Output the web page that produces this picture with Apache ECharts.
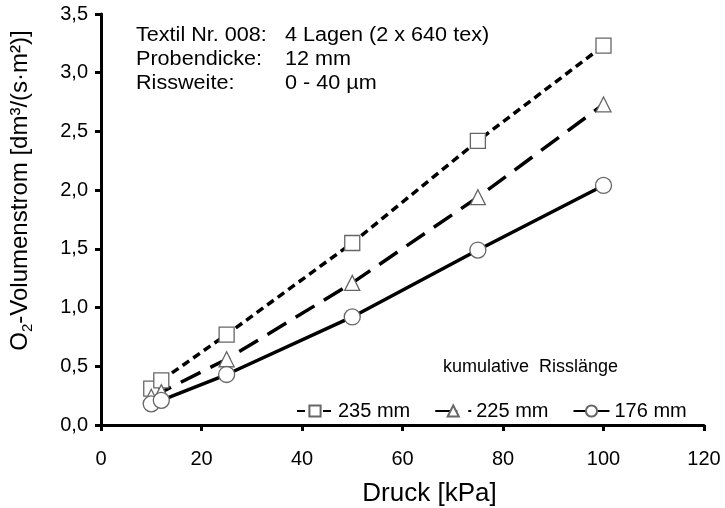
<!DOCTYPE html>
<html>
<head>
<meta charset="utf-8">
<script src="https://cdn.jsdelivr.net/npm/echarts@6/dist/echarts.min.js"></script>
<style>
html,body{margin:0;padding:0;background:#fff;}
#c{width:725px;height:508px;}
</style>
</head>
<body>
<div id="c"></div>
<script>
const pressure = [10, 12, 25, 50, 75, 100];
const s235 = [0.31, 0.38, 0.77, 1.55, 2.42, 3.23];
const s225 = [0.24, 0.28, 0.56, 1.21, 1.94, 2.73];
const s176 = [0.18, 0.21, 0.43, 0.92, 1.49, 2.04];
const seriesNames = ['235 mm', '225 mm', '176 mm'];
const xTicks = [0, 20, 40, 60, 80, 100, 120];
const yTicks = [0, 0.5, 1, 1.5, 2, 2.5, 3, 3.5];
const notesLeft = ['Textil Nr. 008:', 'Probendicke:', 'Rissweite:'];
const notesRight = ['4 Lagen (2 x 640 tex)', '12 mm', '0 - 40 µm'];
const legendTitle = 'kumulative  Risslänge';

const FF = '"Liberation Sans", Arial, sans-serif';
const chart = echarts.init(document.getElementById('c'), null, {renderer: 'canvas'});

function pairs(vals){ return pressure.map((x,i)=>[x, vals[i]]); }

const markerStyle = {color: '#fff', borderColor: '#666', borderWidth: 1.3};

const graphics = [];
notesLeft.forEach((t,i)=>{
  graphics.push({type:'text', left:136, top:25 + i*24, z:10, scaleX:1.08,
    style:{text:t, font:'20px ' + FF, fill:'#000'}});
});
notesRight.forEach((t,i)=>{
  graphics.push({type:'text', left:285, top:25 + i*24, z:10, scaleX:1.08,
    style:{text:t, font:'20px ' + FF, fill:'#000'}});
});
graphics.push({type:'text', left:443, top:358, z:10,
  style:{text:legendTitle, font:'18px ' + FF, fill:'#000'}});

chart.setOption({
  animation: false,
  backgroundColor: '#fff',
  textStyle: {fontFamily: FF},
  grid: {left: 101, right: 21, top: 14, bottom: 83, containLabel: false, outerBoundsMode: 'none'},
  graphic: graphics,
  legend: {
    left: 291, top: 396,
    itemWidth: 36, itemHeight: 14, itemGap: 24,
    textStyle: {fontSize: 20, color: '#000', fontFamily: FF, padding: [0,0,0,0]},
    data: seriesNames
  },
  xAxis: {
    type: 'value', min: 0, max: 120, interval: 20,
    name: 'Druck [kPa]', nameLocation: 'middle', nameGap: 56,
    nameTextStyle: {fontSize: 26, color: '#000', fontFamily: FF, padding: [0,0,0,54]},
    axisLine: {lineStyle: {color: '#000', width: 3}},
    axisTick: {inside: false, length: 6, lineStyle: {color: '#000', width: 3}},
    axisLabel: {fontSize: 20, color: '#000', margin: 24, fontFamily: FF,
      formatter: v => xTicks.includes(v) ? String(v) : ''},
    splitLine: {show: false}
  },
  yAxis: {
    type: 'value', min: 0, max: 3.5, interval: 0.5,
    name: '{n|O}{s|2}{n|-Volumenstrom [dm³/(s·m²)]}', nameLocation: 'middle', nameGap: 66,
    nameTextStyle: {fontSize: 24, color: '#000', fontFamily: FF, padding: [0,0,0,58],
      rich: {
        n: {fontSize: 24, lineHeight: 30, color: '#000', fontFamily: FF},
        s: {fontSize: 15, lineHeight: 30, verticalAlign: 'bottom', color: '#000', fontFamily: FF}
      }},
    axisLine: {show: true, lineStyle: {color: '#000', width: 3}},
    axisTick: {show: true, inside: false, length: 6, lineStyle: {color: '#000', width: 3}},
    axisLabel: {fontSize: 20, color: '#000', margin: 13, fontFamily: FF,
      formatter: v => yTicks.some(t => Math.abs(t - v) < 1e-9) ? v.toFixed(1).replace('.', ',') : ''},
    splitLine: {show: false}
  },
  series: [
    {name: seriesNames[0], type: 'line', data: pairs(s235), symbol: 'rect', symbolSize: 15,
     lineStyle: {color: '#000', width: 3.5, type: [8, 5]}, itemStyle: markerStyle, z: 3},
    {name: seriesNames[1], type: 'line', data: pairs(s225), symbol: 'triangle', symbolSize: 15,
     lineStyle: {color: '#000', width: 3.5, type: [22, 11]}, itemStyle: markerStyle, z: 3},
    {name: seriesNames[2], type: 'line', data: pairs(s176), symbol: 'circle', symbolSize: 16,
     lineStyle: {color: '#000', width: 3.5, type: 'solid'}, itemStyle: markerStyle, z: 3}
  ]
});
</script>
</body>
</html>
